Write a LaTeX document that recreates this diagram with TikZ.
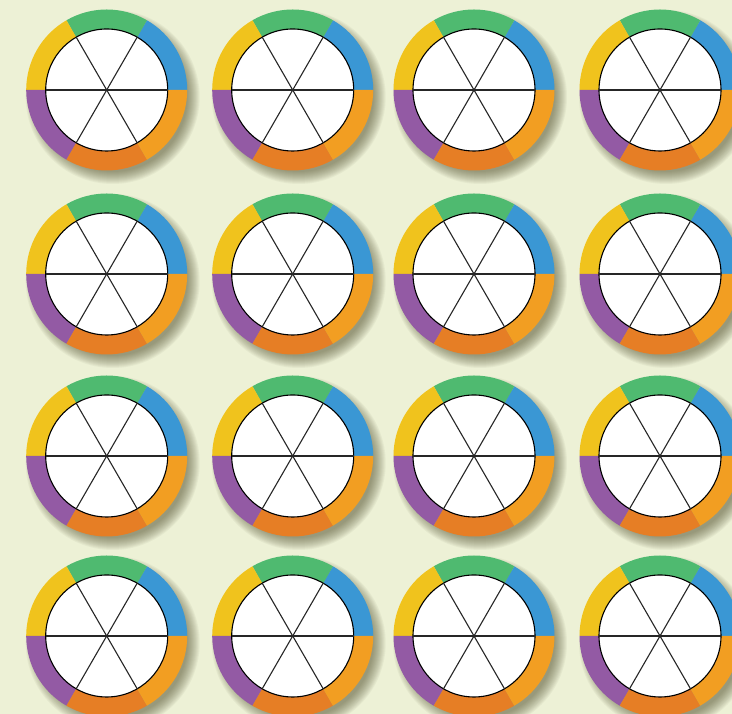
\documentclass[tikz,border=0pt]{standalone}
\definecolor{bg}{HTML}{EDF1D6}
\definecolor{wgreen}{HTML}{4FBA70}
\definecolor{wblue}{HTML}{3A97D4}
\definecolor{worange}{HTML}{F29E22}
\definecolor{wdorange}{HTML}{E67E25}
\definecolor{wpurple}{HTML}{935AA4}
\definecolor{wyellow}{HTML}{F0C31D}
\definecolor{shadowc}{HTML}{4A4A28}
\tikzset{
  seg/.style={fill=#1},
  spoke/.style={draw=black!85, line width=1.1pt},
  rim/.style={draw=black, line width=1.1pt, fill=white},
  pics/wheel/.style={code={
    \foreach \k in {0,...,12}{
      \fill[shadowc, opacity=0.05] (6,-7) circle ({87-\k});
    }
    \foreach \a/\b/\c in {0/60/wblue,60/120/wgreen,120/180/wyellow,180/240/wpurple,240/300/wdorange,300/360/worange}{
      \fill[seg=\c] (0,0) -- (\a:80.5) arc[start angle=\a,end angle=\b,radius=80.5] -- cycle;
    }
    \draw[rim] (0,0) circle (61);
    \draw[spoke] (180:61) -- (0:61);
    \draw[spoke] (240:61) -- (60:61);
    \draw[spoke] (300:61) -- (120:61);
  }}
}
\begin{document}
\begin{tikzpicture}[x=1pt,y=1pt]
  \useasboundingbox (0,0) rectangle (732,714);
  \fill[bg] (0,0) rectangle (732,714);
  \foreach \y [count=\r] in {624,440,258,78}{
    \foreach \x [count=\c] in {106.7,292.7,474,660}{
      \pic (w\r\c) at (\x,\y) {wheel};
    }
  }
\end{tikzpicture}
\end{document}
